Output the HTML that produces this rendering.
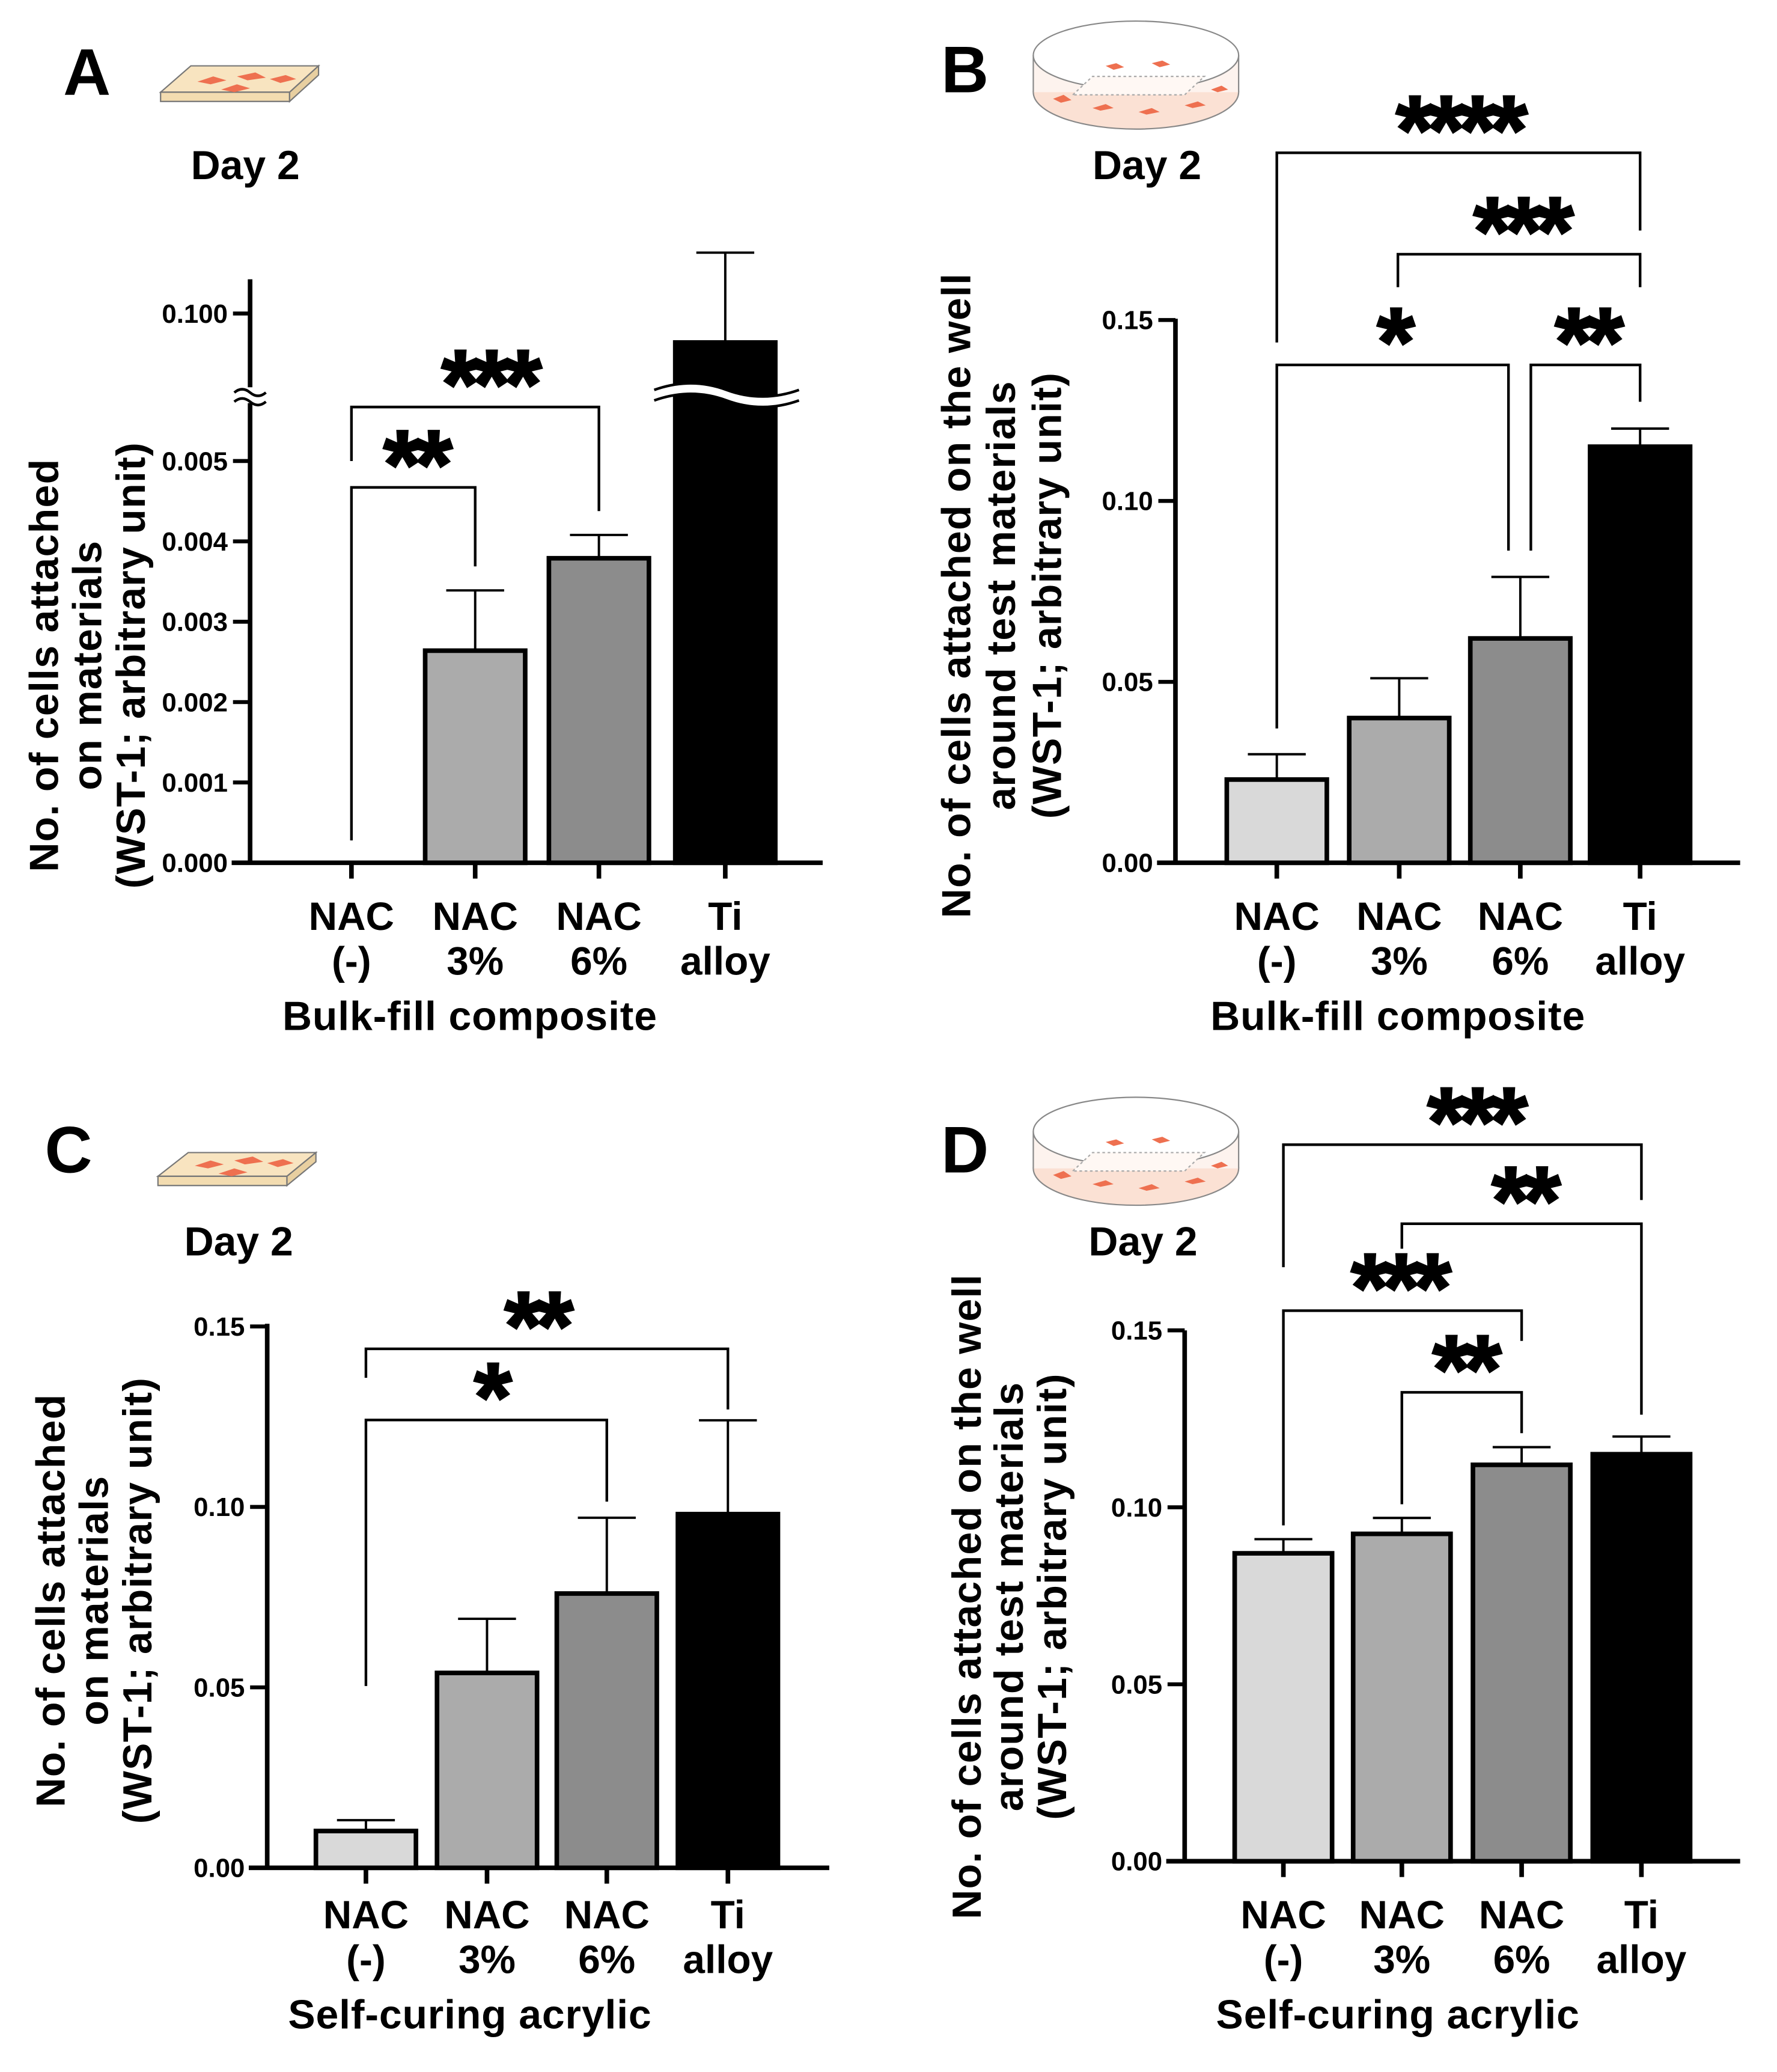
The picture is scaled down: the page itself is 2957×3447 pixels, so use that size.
<!DOCTYPE html>
<html><head><meta charset="utf-8"><style>
html,body{margin:0;padding:0;background:#fff;}
svg{display:block;}
text{font-family:"Liberation Sans",Arial,sans-serif;font-weight:bold;fill:#000;}
</style></head><body>
<svg id="fig" xmlns="http://www.w3.org/2000/svg" width="2957" height="3447" viewBox="0 0 1350 1573" preserveAspectRatio="none">
<g>
<polygon points="122,70 145,50 242,50 220,70" fill="#f8e4c0" stroke="#777" stroke-width="1"/>
<polygon points="122,70 220,70 220,77 122,77" fill="#f3dcb0" stroke="#777" stroke-width="1"/>
<polygon points="220,70 242,50 242,57 220,77" fill="#e8cfa0" stroke="#777" stroke-width="1"/>
<path d="M150,62 l12,-4 l10,3 l-12,3z M180,58 l14,-3 l8,4 l-14,2z M168,68 l12,-4 l10,3 l-12,3z M205,60 l12,-3 l8,3 l-12,3z" fill="#ee7050"/>
</g>
<g>
<polygon points="120,893 143,875 240,875 218,893" fill="#f8e4c0" stroke="#777" stroke-width="1"/>
<polygon points="120,893 218,893 218,900 120,900" fill="#f3dcb0" stroke="#777" stroke-width="1"/>
<polygon points="218,893 240,875 240,882 218,900" fill="#e8cfa0" stroke="#777" stroke-width="1"/>
<path d="M148,885 l12,-4 l10,3 l-12,3z M178,881 l14,-3 l8,4 l-14,2z M166,891 l12,-4 l10,3 l-12,3z M203,883 l12,-3 l8,3 l-12,3z" fill="#ee7050"/>
</g>
<g>
<ellipse cx="863" cy="70" rx="78" ry="28" fill="#fbe1d4" stroke="#888" stroke-width="1"/>
<rect x="785" y="42" width="156" height="28" fill="#fdf3ee"/>
<ellipse cx="863" cy="42" rx="78" ry="26" fill="#fff" stroke="#888" stroke-width="1"/>
<line x1="785" y1="42" x2="785" y2="70" stroke="#888"/><line x1="941" y1="42" x2="941" y2="70" stroke="#888"/>
<polygon points="815,72 830,58 915,58 900,72" fill="#fff8f4" stroke="#aaa" stroke-dasharray="2,2"/>
<path d="M800,75 l8,-3 l6,4 l-8,2z M830,82 l10,-3 l6,3 l-10,2z M865,85 l10,-3 l6,3 l-10,2z M900,80 l10,-3 l6,3 l-10,2z M920,68 l8,-3 l5,3 l-8,2z M840,50 l8,-2 l6,3 l-8,2z M875,48 l8,-2 l6,3 l-8,2z" fill="#ee7050"/>
</g>
<g>
<ellipse cx="863" cy="887" rx="78" ry="28" fill="#fbe1d4" stroke="#888" stroke-width="1"/>
<rect x="785" y="859" width="156" height="28" fill="#fdf3ee"/>
<ellipse cx="863" cy="859" rx="78" ry="26" fill="#fff" stroke="#888" stroke-width="1"/>
<line x1="785" y1="859" x2="785" y2="887" stroke="#888"/><line x1="941" y1="859" x2="941" y2="887" stroke="#888"/>
<polygon points="815,889 830,875 915,875 900,889" fill="#fff8f4" stroke="#aaa" stroke-dasharray="2,2"/>
<path d="M800,892 l8,-3 l6,4 l-8,2z M830,899 l10,-3 l6,3 l-10,2z M865,902 l10,-3 l6,3 l-10,2z M900,897 l10,-3 l6,3 l-10,2z M920,885 l8,-3 l5,3 l-8,2z M840,867 l8,-2 l6,3 l-8,2z M875,865 l8,-2 l6,3 l-8,2z" fill="#ee7050"/>
</g>
</svg>
<script>
// Shared categories
const categories1 = ["NAC","NAC","NAC","Ti"];
const categories2 = ["(-)","3%","6%","alloy"];
const fills = ["#d9d9d9","#ababab","#8c8c8c","#000000"];
// Panel A (broken axis)
const aMeans = [0, 0.00264, 0.00379, 0.090];
const aErrs  = [0, 0.00075, 0.00029, 0.031];
const aTicks = [0, 0.001, 0.002, 0.003, 0.004, 0.005];
const aTickLabels = ["0.000","0.001","0.002","0.003","0.004","0.005"];
const aUpperTicks = [0.100];
const aUpperTickLabels = ["0.100"];
// Panel B
const bMeans = [0.023, 0.040, 0.062, 0.115];
const bErrs  = [0.007, 0.011, 0.017, 0.005];
// Panel C
const cMeans = [0.0102, 0.054, 0.076, 0.098];
const cErrs  = [0.003, 0.015, 0.021, 0.026];
// Panel D
const dMeans = [0.087, 0.0925, 0.112, 0.115];
const dErrs  = [0.004, 0.0045, 0.005, 0.005];
const stdTicks = [0, 0.05, 0.10, 0.15];
const stdTickLabels = ["0.00","0.05","0.10","0.15"];

const NS = "http://www.w3.org/2000/svg";
const svg = document.getElementById('fig');
function mk(tag, attrs, parent){
  const e = document.createElementNS(NS, tag);
  for (const k in attrs) e.setAttribute(k, attrs[k]);
  (parent||svg).appendChild(e); return e;
}
function txt(s, x, y, size, anchor, parent, rot){
  const t = mk('text', {x:x, y:y, 'font-size':size, 'text-anchor':anchor||'middle'}, parent);
  if (rot) t.setAttribute('transform', 'rotate(-90 '+x+' '+y+')');
  t.textContent = s; return t;
}
function line(x1,y1,x2,y2,w,parent){ return mk('line',{x1:x1,y1:y1,x2:x2,y2:y2,stroke:'#000','stroke-width':w||2},parent); }

function panel(p){
  const g = mk('g', {});
  
  
  const L = txt(p.letter, p.letterX, p.letterY, 50, 'start', g);
  
  
  const D = txt('Day 2', p.dayX, p.dayY, 31, 'start', g);
  
  
  const ax = line(p.ax, p.axTop, p.ax, p.axBot, 3.5, g);
  
  
  const xa = line(p.ax-14, p.axBot, p.xEnd, p.axBot, 3.5, g);
  
  
  p.ticks.forEach((v,i)=>{
    const y = p.y(v);
    line(p.ax-13, y, p.ax, y, 3, g);
    const t = txt(p.tickLabels[i], p.ax-17, y+7, 20, 'end', g);
    
    
  });
  p.means.forEach((m,i)=>{
    const cx = p.cx[i], yT = p.barTop ? p.barTop(m) : p.y(m);
    if (m > 0) {
      const r = mk('rect', {x:cx-p.bw/2, y:yT, width:p.bw, height:p.axBot-yT, fill:fills[i], stroke:'#000','stroke-width':3.5}, g);
      
      
      const ye = p.barTop ? p.barTop(m+p.errs[i]) : p.y(m+p.errs[i]);
      line(cx, yT, cx, ye, 1.8, g);
      line(cx-22, ye, cx+22, ye, 1.8, g);
    }
    line(cx, p.axBot, cx, p.axBot+12, 3.5, g);
    const c1 = txt(categories1[i], cx, p.catY, 30, 'middle', g);
    
    
    const c2 = txt(categories2[i], cx, p.catY+34, 30, 'middle', g);
    
    
  });
  const xt = txt(p.xTitle, p.xTitleX, p.xTitleY, 31, 'middle', g);
  xt.setAttribute('letter-spacing', '0.4');
  
  
  p.yTitle.forEach((s,i)=>{
    const t = txt(s, p.yTitleX[i], p.yTitleY, 31, 'middle', g, true);
    t.setAttribute('letter-spacing', '0.6');
    
    
  });
  // brackets: [x1, y1bottom, x2, y2bottom, top, stars, starX]
  p.brackets.forEach(b=>{
    const pl = mk('polyline', {points: b[0]+','+b[1]+' '+b[0]+','+b[4]+' '+b[2]+','+b[4]+' '+b[2]+','+b[3], fill:'none', stroke:'#000','stroke-width':2}, g);
    
    
    const s = txt(b[5], b[6], b[4]+8, 74, 'middle', g);
    s.setAttribute('letter-spacing', '-5');
    s.setAttribute('stroke', '#000');
    s.setAttribute('stroke-width', '1.5');
    
    
  });
  return g;
}

// Panel A
const aLower = v => 655 - v*61000;
const aUpper = v => 238 - (v-0.1)*2200;
const gA = panel({id:'a', letter:'A', letterX:48, letterY:72, dayX:145, dayY:136,
  ax:190, axTop:212, axBot:655, xEnd:625, y:aLower,
  barTop: v => v > 0.01 ? aUpper(v) : aLower(v),
  ticks:aTicks, tickLabels:aTickLabels, means:aMeans, errs:aErrs,
  cx:[267,361,455,551], bw:76, catY:706,
  xTitle:'Bulk-fill composite', xTitleX:357, xTitleY:782,
  yTitle:['No. of cells attached','on materials','(WST-1; arbitrary unit)'], yTitleX:[44,77,110], yTitleY:505,
  brackets:[[267,638,361,430,370,'**',315],[267,350,455,388,309,'***',371]]});
aUpperTicks.forEach((v,i)=>{
  const y = aUpper(v);
  line(177, y, 190, y, 3, gA);
  const t = txt(aUpperTickLabels[i], 173, y+7, 20, 'end', gA);
  
  
});
mk('rect',{x:180,y:294,width:22,height:12,fill:'#fff'},gA);
mk('path',{d:'M178,298 q6,-5 12,0 t12,0 M178,305 q6,-5 12,0 t12,0',fill:'none',stroke:'#000','stroke-width':2},gA);
mk('path',{d:'M497,296 q28,-10 55,0 t55,0 L607,304 q-28,10 -55,0 t-55,0z',fill:'#fff',stroke:'none'},gA);
mk('path',{d:'M497,296 q28,-10 55,0 t55,0 M497,304 q28,-10 55,0 t55,0',fill:'none',stroke:'#000','stroke-width':2},gA);

// Panel B
const yB = v => 655 - v*2747;
panel({id:'b', letter:'B', letterX:715, letterY:70, dayX:830, dayY:136,
  ax:893, axTop:242, axBot:655, xEnd:1322, y:yB,
  ticks:stdTicks, tickLabels:stdTickLabels, means:bMeans, errs:bErrs,
  cx:[970,1063,1155,1246], bw:76, catY:706,
  xTitle:'Bulk-fill composite', xTitleX:1062, xTitleY:782,
  yTitle:['No. of cells attached on the well','around test materials','(WST-1; arbitrary unit)'], yTitleX:[737,771,806], yTitleY:452,
  brackets:[[970,260,1246,175,116,'****',1108],[1062,218,1246,218,193,'***',1155],
            [970,553,1146,418,277,'*',1058],[1163,418,1246,305,277,'**',1205]]});

// Panel C
const yC = v => 1418 - v*2740;
panel({id:'c', letter:'C', letterX:34, letterY:890, dayX:140, dayY:953,
  ax:203, axTop:1005, axBot:1418, xEnd:630, y:yC,
  ticks:stdTicks, tickLabels:stdTickLabels, means:cMeans, errs:cErrs,
  cx:[278,370,461,553], bw:76, catY:1464,
  xTitle:'Self-curing acrylic', xTitleX:357, xTitleY:1540,
  yTitle:['No. of cells attached','on materials','(WST-1; arbitrary unit)'], yTitleX:[49,82,115], yTitleY:1215,
  brackets:[[278,1046,553,1070,1024,'**',407],[278,1280,461,1140,1078,'*',372]]});

// Panel D
const yD = v => 1413 - v*2687;
panel({id:'d', letter:'D', letterX:715, letterY:890, dayX:827, dayY:953,
  ax:900, axTop:1010, axBot:1413, xEnd:1322, y:yD,
  ticks:stdTicks, tickLabels:stdTickLabels, means:dMeans, errs:dErrs,
  cx:[975,1065,1156,1247], bw:74, catY:1464,
  xTitle:'Self-curing acrylic', xTitleX:1062, xTitleY:1540,
  yTitle:['No. of cells attached on the well','around test materials','(WST-1; arbitrary unit)'], yTitleX:[745,777,810], yTitleY:1212,
  brackets:[[975,962,1247,911,869,'***',1120],[1065,948,1247,1074,929,'**',1157],
            [975,1158,1156,1018,995,'***',1062],[1065,1142,1156,1088,1057,'**',1112]]});
</script>
</body></html>
